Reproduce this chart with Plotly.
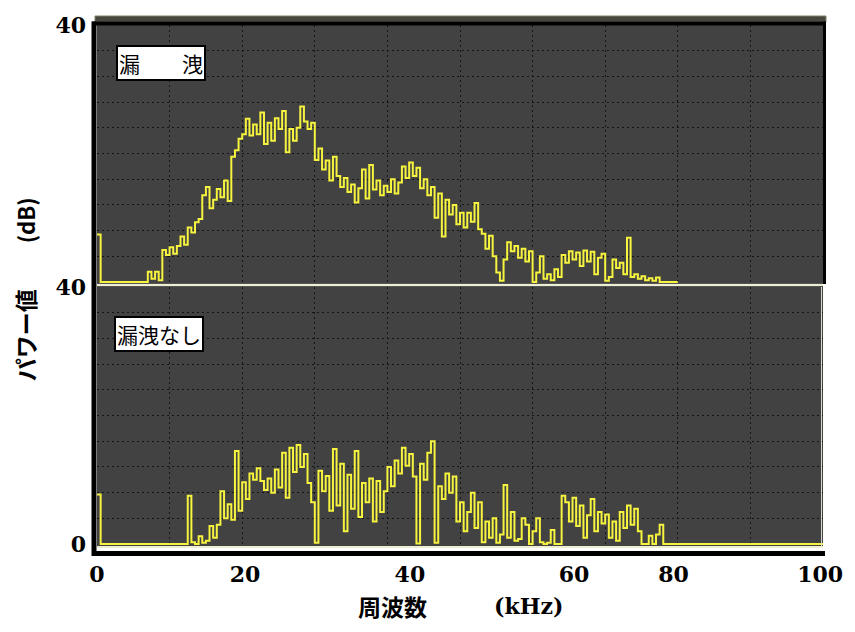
import plotly.graph_objects as go

# ---------------- data ----------------
# frequency step of the sampled spectrum (kHz)
STEP_KHZ = 0.5

# 漏洩 (leak) spectrum, dB, from 0 kHz upward in 0.5 kHz steps
power_leak = [
    7.4, 0, 0, 0, 0, 0, 0, 0, 0, 0,
    0, 0, 0, 0, 1.6, 0.5, 1.6, 0.3, 5.0, 4.2,
    5.4, 4.4, 5.6, 7.1, 5.8, 8.5, 7.7, 9.3, 9.8, 13.5,
    14.8, 11.5, 12.8, 14.5, 13.2, 15.8, 12.6, 19.5, 20.5, 22.3,
    23.0, 25.4, 22.8, 24.5, 23.0, 26.4, 21.5, 24.8, 22.0, 25.5,
    23.8, 26.6, 20.2, 23.8, 22.0, 24.0, 27.3, 25.0, 23.8, 24.8,
    19.0, 20.8, 17.5, 18.9, 15.8, 19.5, 16.5, 14.8, 16.2, 14.0,
    15.2, 12.4, 14.6, 17.5, 13.0, 18.2, 14.4, 15.8, 13.5, 15.0,
    14.0, 16.0, 13.8, 15.5, 18.0, 16.2, 18.6, 16.5, 17.8, 14.6,
    16.0, 13.5, 14.8, 10.0, 13.8, 7.1, 12.8, 10.5, 12.0, 9.0,
    10.8, 8.5, 10.8, 9.4, 12.3, 8.2, 7.5, 5.2, 7.2, 4.0,
    1.5, 0.2, 3.5, 6.2, 4.8, 5.6, 3.8, 5.2, 3.2, 4.8,
    0.0, 1.5, 4.0, 0.5, 1.2, 0.3, 2.0, 0.8, 4.2, 3.0,
    4.8, 3.5, 4.6, 2.5, 4.9, 3.2, 4.7, 1.2, 3.8, 4.4,
    0.2, 0.8, 3.5, 2.2, 3.0, 1.2, 6.9, 0.8, 1.2, 0.5,
    0.9, 0.3, 0.6, 0.2, 0.7, 0, 0, 0, 0, 0,
    0,
]

# 漏洩なし (no leak) spectrum, dB, same frequency steps
power_noleak = [
    7.7, 0, 0, 0, 0, 0, 0, 0, 0, 0,
    0, 0, 0, 0, 0, 0, 0, 0, 0, 0,
    0, 0, 0, 0, 0, 7.5, 0.3, 0, 1.2, 0.2,
    0.5, 2.8, 1.0, 3.0, 8.2, 4.0, 6.2, 3.8, 14.5, 5.2,
    9.6, 7.0, 11.0, 10.0, 11.8, 9.8, 8.4, 10.2, 8.0, 11.6,
    8.8, 14.2, 7.2, 15.0, 11.2, 15.4, 12.0, 14.0, 9.5, 6.5,
    0.2, 11.4, 8.2, 10.6, 5.2, 14.8, 6.0, 12.5, 2.0, 10.8,
    5.5, 14.5, 4.2, 9.5, 6.5, 10.2, 3.5, 9.8, 5.0, 8.2,
    12.0, 9.0, 13.0, 11.0, 15.0, 12.2, 14.0, 10.5, 0.1, 12.5,
    10.0, 14.2, 16.0, 0.2, 9.0, 7.0, 11.0, 8.0, 10.5, 3.5,
    6.5, 2.0, 5.0, 8.0, 2.5, 6.5, 0.3, 3.5, 1.0, 4.0,
    0.2, 1.5, 9.2, 1.0, 5.0, 0.5, 0.8, 4.0, 3.0, 0.0,
    2.0, 4.0, 0.3, 0.0, 0.2, 2.2, 0.0, 0.0, 7.5, 6.5,
    3.5, 7.2, 2.8, 6.0, 1.0, 4.5, 7.0, 2.0, 5.0, 3.2,
    4.6, 1.0, 3.5, 0.5, 5.0, 2.5, 6.0, 3.0, 5.5, 2.0,
    0, 0, 1.3, 0, 1.5, 3.0, 0, 0, 0, 0,
    0,
]

freq_leak = [i * STEP_KHZ for i in range(len(power_leak))]
freq_noleak = [i * STEP_KHZ for i in range(len(power_noleak))] + [100]
power_noleak_ext = power_noleak + [0]

# tick labels of the frequency axis and where the reference prints them
x_tick_text = ["0", "20", "40", "60", "80", "100"]
x_tick_pos = [0, 20.4, 43.1, 65.7, 79.4, 99.6]
x_grid = [10, 20, 30, 40, 50, 60, 70, 80, 90]
y_grid = [4, 8, 12, 16, 20, 24, 28, 32, 36]
panel_labels = ["漏　　洩", "漏洩なし"]
x_title_jp, x_title_unit = "周波数", "(kHz)"
y_title_jp, y_title_unit = "パワー値", "(dB)"

# ---------------- styling ----------------
BG = "#424242"
YELLOW = "#f6f43e"
BASE = "#eeeed2"
GRID = "#151515"
SERIF = "DejaVu Serif"
SANS = "Noto Sans CJK JP"

W, H = 855, 632
ML, MR, MT, MB = 97, 30, 25, 86
PH = H - MT - MB
PW = W - ML - MR


def py(pix):  # pixel row -> paper y
    return (H - MB - pix) / PH


def px(pix):  # pixel column -> paper x
    return (pix - ML) / PW


fig = go.Figure()
fig.add_trace(go.Scatter(x=freq_leak, y=power_leak, mode="lines",
                         line=dict(color=YELLOW, width=2, shape="hv"),
                         xaxis="x", yaxis="y", hoverinfo="skip", showlegend=False))
fig.add_trace(go.Scatter(x=freq_noleak, y=power_noleak_ext, mode="lines",
                         line=dict(color=YELLOW, width=2, shape="hv"),
                         xaxis="x2", yaxis="y2", hoverinfo="skip", showlegend=False))

xgrid = dict(tickmode="array", tickvals=x_grid, showgrid=True, gridcolor=GRID,
             griddash="2px,3px", gridwidth=1, ticks="")
ygrid = dict(tickmode="array", tickvals=y_grid, showgrid=True, gridcolor=GRID,
             griddash="2px,3px", gridwidth=1, ticks="")

TICKFONT = dict(family=SERIF, size=22, color="black", weight="bold")

common_x = dict(range=[0, 100], showgrid=False, zeroline=False, ticks="",
                showline=True, linecolor=BASE, linewidth=2, minor=xgrid,
                fixedrange=True)
common_y = dict(range=[-0.3, 40], showgrid=False, zeroline=False, ticks="",
                minor=ygrid, ticklabelstandoff=10, tickfont=TICKFONT,
                fixedrange=True)

top_dom = [py(284), 1]
bot_dom = [0, py(287)]

fig.update_layout(
    width=W, height=H,
    margin=dict(l=ML, r=MR, t=MT, b=MB),
    paper_bgcolor="white", plot_bgcolor=BG,
    xaxis=dict(common_x, anchor="y", showticklabels=False),
    xaxis2=dict(common_x, anchor="y2", matches="x", tickmode="array",
                tickvals=x_tick_pos, ticktext=x_tick_text,
                tickfont=TICKFONT, ticklabelstandoff=8),
    yaxis=dict(common_y, domain=top_dom, anchor="x", tickmode="array",
               tickvals=[40], ticktext=["40"]),
    yaxis2=dict(common_y, domain=bot_dom, anchor="x2", tickmode="array",
                tickvals=[0, 40], ticktext=["0", "40"]),
)

shapes = [
    # dark strip between the two panels
    dict(type="rect", xref="paper", yref="paper", x0=0, x1=1,
         y0=py(287), y1=py(283), fillcolor="#555555", line_width=0, layer="below"),
    # olive top strip of the upper panel
    dict(type="rect", xref="paper", yref="paper", x0=px(95), x1=px(828),
         y0=py(22), y1=py(16), fillcolor="#474740", line=dict(color="#80806a", width=1),
         layer="below"),
    # black frame: top, left, right (upper panel), bottom
    dict(type="line", xref="paper", yref="paper", x0=px(92), x1=px(828),
         y0=py(23.5), y1=py(23.5), line=dict(color="black", width=4)),
    dict(type="line", xref="paper", yref="paper", x0=px(94), x1=px(94),
         y0=py(556), y1=py(21.5), line=dict(color="black", width=5)),
    dict(type="line", xref="paper", yref="paper", x0=px(826.5), x1=px(826.5),
         y0=py(284), y1=py(21.5), line=dict(color="black", width=3)),
    dict(type="line", xref="paper", yref="paper", x0=px(92), x1=px(827),
         y0=py(553.5), y1=py(553.5), line=dict(color="black", width=5)),
    # thin pale edge of the lower panel
    dict(type="line", xref="paper", yref="paper", x0=px(823.5), x1=px(823.5),
         y0=py(546), y1=py(287), line=dict(color="#d8d8c8", width=1)),
]
fig.update_layout(shapes=shapes)

ann = [
    dict(text=panel_labels[0], xref="paper", yref="paper", x=px(116), y=py(45),
         xanchor="left", yanchor="top", showarrow=False,
         font=dict(family=SANS, size=21, color="black"),
         bgcolor="white", bordercolor="black", borderwidth=2, borderpad=1),
    dict(text=panel_labels[1], xref="paper", yref="paper", x=px(114), y=py(316),
         xanchor="left", yanchor="top", showarrow=False,
         font=dict(family=SANS, size=21, color="black"),
         bgcolor="white", bordercolor="black", borderwidth=2, borderpad=1),
    dict(text=f"<b>{x_title_jp}</b>", xref="paper", yref="paper",
         x=px(393), y=py(606), xanchor="center", yanchor="middle", showarrow=False,
         font=dict(family=SANS, size=23, color="black")),
    dict(text=f"<b>{x_title_unit}</b>", xref="paper", yref="paper",
         x=px(530), y=py(606), xanchor="center", yanchor="middle", showarrow=False,
         font=dict(family=SERIF, size=22, color="black")),
    dict(text=f"<b>{y_title_jp}</b>", xref="paper", yref="paper",
         x=px(25), y=py(335), xanchor="center", yanchor="middle", showarrow=False,
         textangle=-90, font=dict(family=SANS, size=23, color="black")),
    dict(text=f"<b>{y_title_unit}</b>", xref="paper", yref="paper",
         x=px(25), y=py(220), xanchor="center", yanchor="middle", showarrow=False,
         textangle=-90, font=dict(family=SANS, size=22, color="black")),
]
fig.update_layout(annotations=ann)

fig.write_html("out.html", config={"displayModeBar": False},
               post_script="document.body.style.margin='0px';")
